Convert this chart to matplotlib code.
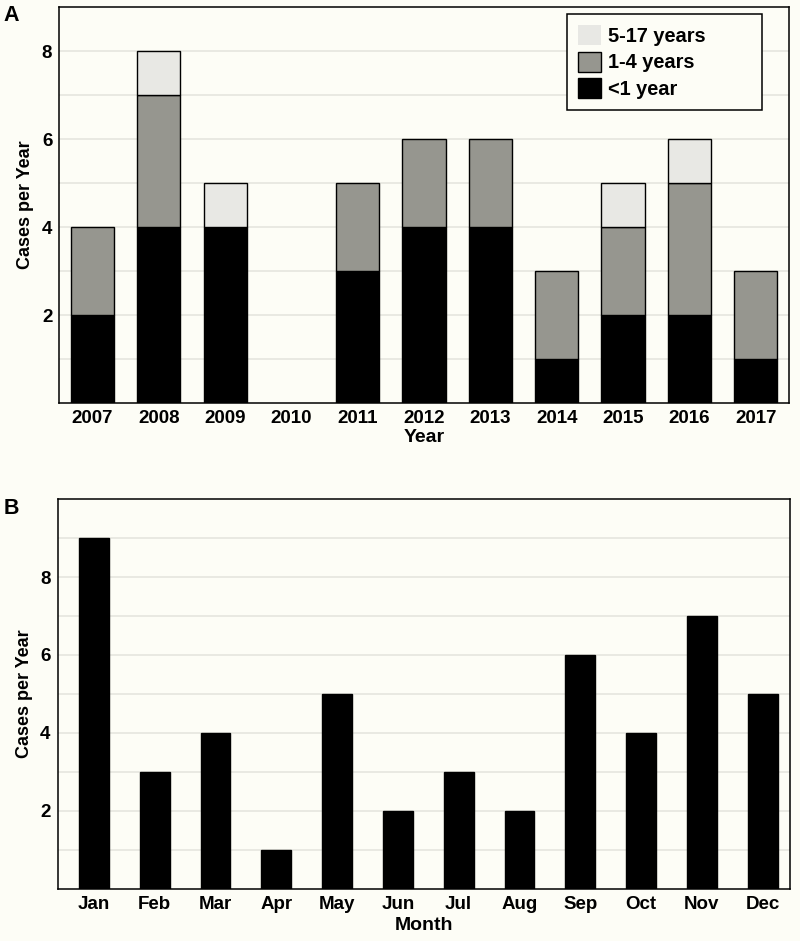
import matplotlib
matplotlib.use("Agg")
import matplotlib.pyplot as plt
import numpy as np

years = ["2007", "2008", "2009", "2010", "2011", "2012", "2013", "2014", "2015", "2016", "2017"]
under1 = [2, 4, 4, 0, 3, 4, 4, 1, 2, 2, 1]
age1_4 = [2, 3, 0, 0, 2, 2, 2, 2, 2, 3, 2]
age5_17 = [0, 1, 1, 0, 0, 0, 0, 0, 1, 1, 0]

months = ["Jan", "Feb", "Mar", "Apr", "May", "Jun", "Jul", "Aug", "Sep", "Oct", "Nov", "Dec"]
month_cases = [9, 3, 4, 1, 5, 2, 3, 2, 6, 4, 7, 5]

plt.rcParams['font.family'] = ['Liberation Sans', 'DejaVu Sans']
plt.rcParams['font.weight'] = 'bold'

BG = "#fdfdf6"
GRID = "#e6e6df"
C_BLACK = "#000000"
C_GRAY = "#96968f"
C_LIGHT = "#e8e8e4"
TICK_FS = 13.5
XLABEL_FS = 14
YLABEL_FS = 13

fig = plt.figure(figsize=(8.0, 9.41), dpi=100, facecolor=BG)
axA = fig.add_axes([0.0741, 0.5717, 0.9119, 0.4205])
axB = fig.add_axes([0.0719, 0.0553, 0.9156, 0.4144])

def style(ax):
    ax.set_facecolor(BG)
    for s in ax.spines.values():
        s.set_linewidth(1.1)
        s.set_color("black")
    ax.tick_params(axis='both', which='both', length=0)
    ax.tick_params(axis='x', labelsize=TICK_FS, pad=4.8)
    ax.tick_params(axis='y', labelsize=TICK_FS, pad=5)
    for lab in ax.get_xticklabels() + ax.get_yticklabels():
        lab.set_fontweight('bold')
    ax.set_axisbelow(True)

def lw(vals):
    return [1.0 if v > 0 else 0.0 for v in vals]

# Panel A
x = np.arange(len(years))
w = 0.65
b1 = np.array(under1)
b2 = b1 + np.array(age1_4)
axA.bar(x, under1, w, color=C_BLACK, edgecolor='black', linewidth=lw(under1), label='<1 year', zorder=3)
axA.bar(x, age1_4, w, bottom=b1, color=C_GRAY, edgecolor='black', linewidth=lw(age1_4), label='1-4 years', zorder=3)
axA.bar(x, age5_17, w, bottom=b2, color=C_LIGHT, edgecolor='black', linewidth=lw(age5_17), label='5-17 years', zorder=3)
axA.set_xlim(-0.5, len(years) - 0.5)
axA.set_ylim(0, 9)
axA.set_yticks([2, 4, 6, 8])
axA.set_yticks(np.arange(1, 9), minor=True)
axA.yaxis.grid(True, which='both', color=GRID, linewidth=1.2)
axA.set_xticks(x)
axA.set_xticklabels(years)
axA.set_xlabel("Year", fontsize=XLABEL_FS, fontweight='bold', labelpad=1.5)
axA.set_ylabel("Cases per Year", fontsize=YLABEL_FS, fontweight='bold', labelpad=6)
style(axA)
handles, labels = axA.get_legend_handles_labels()
leg = axA.legend(handles[::-1], labels[::-1], loc='upper left', mode='expand',
                 bbox_to_anchor=(0.6953, 0.705, 0.2673, 0.278),
                 frameon=True, fancybox=False, edgecolor='black', facecolor=BG, framealpha=1,
                 prop={'size': 14.4, 'weight': 'bold'}, handlelength=1.15, handleheight=1.15,
                 handletextpad=0.35, labelspacing=0.3, borderpad=0.55, borderaxespad=0)
leg.get_frame().set_linewidth(1.1)
leg.set_zorder(5)

# Panel B
xm = np.arange(len(months))
axB.bar(xm, month_cases, 0.49, color=C_BLACK, edgecolor='black', linewidth=lw(month_cases), zorder=3)
axB.set_xlim(-0.6, len(months) - 1 + 0.45)
axB.set_ylim(0, 10)
axB.set_yticks([2, 4, 6, 8])
axB.set_yticks(np.arange(1, 10), minor=True)
axB.yaxis.grid(True, which='both', color=GRID, linewidth=1.2)
axB.set_xticks(xm)
axB.set_xticklabels(months)
axB.set_xlabel("Month", fontsize=XLABEL_FS, fontweight='bold', labelpad=3)
axB.set_ylabel("Cases per Year", fontsize=YLABEL_FS, fontweight='bold', labelpad=5)
style(axB)

fig.text(0.004, 0.983, "A", fontsize=15.5, fontweight='bold', va='center', ha='left')
fig.text(0.004, 0.460, "B", fontsize=15.5, fontweight='bold', va='center', ha='left')

fig.savefig("out.png", dpi=100, facecolor=BG)
